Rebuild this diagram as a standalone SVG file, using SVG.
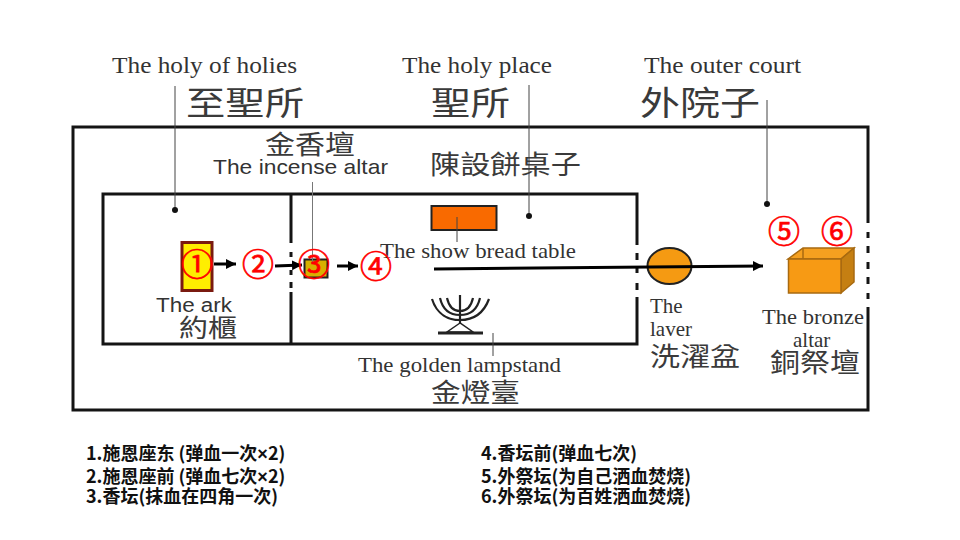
<svg xmlns="http://www.w3.org/2000/svg" width="960" height="540" viewBox="0 0 960 540">
<style>
.w{fill:none;stroke:#141414;stroke-width:3}
.l{fill:none;stroke:#444;stroke-width:1}
.c{stroke:#000;stroke-width:3;fill:none;marker-end:url(#ah)}
.s{font-family:"Liberation Serif",serif;fill:#333}
.a{font-family:"Liberation Sans",sans-serif;fill:#333}
.z{font-family:"Noto Sans CJK TC",sans-serif;font-weight:400;fill:#3a3a3a}
.n{font-family:"Noto Sans CJK SC",sans-serif;font-size:32px;fill:#f00;stroke:#f00;stroke-width:.7;text-anchor:middle}
.b{font-family:"Noto Sans CJK SC",sans-serif;font-size:18px;font-weight:700;fill:#111}
.x{font-family:"Liberation Sans",sans-serif}
.m{fill:none;stroke:#222;stroke-width:2.2}
</style>
<defs>
<marker id="ah" markerUnits="userSpaceOnUse" markerWidth="12" markerHeight="12" refX="10" refY="6" orient="auto"><path d="M0 1L10 6L0 11Z" fill="#000"/></marker>
</defs>
<rect width="960" height="540" fill="#fff"/>
<g id="walls">
<path class="w" d="M868 223V127H73V410H868V307M868 232V238M868 246V253M868 262V269M868 277V284M868 293V299"/>
<path class="w" d="M291 243V194H103V344H637V297M637 245V194H291M291 252V257M291 270V275M291 282V288M291 292V344M637 253V260M637 267V273M637 283V290"/>
</g>
<g id="holy-of-holies">
<text class="s" x="112" y="73" font-size="23.500" textLength="185" lengthAdjust="spacingAndGlyphs">The holy of holies</text>
<text class="z" x="186" y="115" font-size="33" textLength="118" lengthAdjust="spacingAndGlyphs">至聖所</text>
<path class="l" d="M175 86V210"/><circle cx="175" cy="210" r="3" fill="#111"/>
</g>
<g id="holy-place">
<text class="s" x="402" y="73" font-size="23.500" textLength="150" lengthAdjust="spacingAndGlyphs">The holy place</text>
<text class="z" x="431" y="115" font-size="33" textLength="79" lengthAdjust="spacingAndGlyphs">聖所</text>
<path class="l" d="M529 85V216"/><circle cx="529" cy="216" r="3" fill="#111"/>
</g>
<g id="outer-court">
<text class="s" x="644" y="73" font-size="23.500" textLength="157" lengthAdjust="spacingAndGlyphs">The outer court</text>
<text class="z" x="640" y="115" font-size="33" textLength="120" lengthAdjust="spacingAndGlyphs">外院子</text>
<path class="l" d="M767 100V204"/><circle cx="767" cy="204" r="3" fill="#111"/>
</g>
<g id="incense-altar">
<text class="z" x="265" y="154" font-size="26" textLength="90" lengthAdjust="spacingAndGlyphs">金香壇</text>
<text class="a" x="213" y="174" font-size="21" textLength="175" lengthAdjust="spacingAndGlyphs">The incense altar</text>
<rect x="304.500" y="259.500" width="23" height="18" fill="#d8b000" stroke="#222" stroke-width="2"/>
<path d="M312.500 182V262" stroke="#777" stroke-width="1" fill="none"/>
</g>
<g id="ark">
<rect x="182" y="242.500" width="30" height="48" fill="#ffee00" stroke="#7a1a10" stroke-width="3"/>
<text class="a" x="156" y="312" font-size="20" textLength="76" lengthAdjust="spacingAndGlyphs">The ark</text>
<text class="z" x="179" y="337" font-size="25" textLength="58" lengthAdjust="spacingAndGlyphs">約櫃</text>
</g>
<g id="show-bread-table">
<text class="z" x="430" y="174" font-size="26" textLength="151" lengthAdjust="spacingAndGlyphs">陳設餅桌子</text>
<rect x="431.500" y="206" width="65" height="24" fill="#f96a00" stroke="#222" stroke-width="2"/>
<path class="l" d="M457 217V242"/>
<text class="s" x="380" y="258" font-size="21" textLength="196" lengthAdjust="spacingAndGlyphs">The show bread table</text>
</g>
<g id="lampstand">
<path class="m" d="M460 295V323M447 298C449 307 454 311 460 311C466 311 471 307 473 298M440 298C443 311 451 315 460 315C469 315 477 311 480 298M432 299C437 315 449 320 460 320C471 320 483 315 489 299"/>
<path d="M460 323L447 332H473Z" fill="none" stroke="#222" stroke-width="1.500"/>
<path d="M438 333H483" stroke="#222" stroke-width="3"/>
<path class="l" d="M493 333V356"/>
<text class="s" x="358" y="372" font-size="21" textLength="203" lengthAdjust="spacingAndGlyphs">The golden lampstand</text>
<text class="z" x="431" y="402" font-size="26" textLength="89" lengthAdjust="spacingAndGlyphs">金燈臺</text>
</g>
<g id="laver">
<ellipse cx="669.500" cy="266" rx="22" ry="18" fill="#f59a12" stroke="#222" stroke-width="2"/>
<text class="s" x="650" y="313" font-size="21">The</text>
<text class="s" x="650" y="336" font-size="21">laver</text>
<text class="z" x="650" y="366" font-size="26" textLength="90" lengthAdjust="spacingAndGlyphs">洗濯盆</text>
</g>
<g id="bronze-altar">
<path d="M788 259L803 248H854L841 259Z" fill="#f5a020" stroke="#a86a10" stroke-width="1.500"/>
<path d="M841 259L854 248V282L841 293Z" fill="#c57f12" stroke="#a86a10" stroke-width="1.500"/>
<rect x="788.500" y="259" width="52.500" height="34" fill="#f79a14" stroke="#a86a10" stroke-width="1.500"/>
<path d="M803 248V259" stroke="#a86a10" stroke-width="1.500"/>
<text class="s" x="762" y="324" font-size="21" textLength="102" lengthAdjust="spacingAndGlyphs">The bronze</text>
<text class="s" x="793" y="347" font-size="21">altar</text>
<text class="z" x="770" y="372" font-size="26" textLength="90" lengthAdjust="spacingAndGlyphs">銅祭壇</text>
</g>
<g id="connectors">
<path class="c" d="M214 264H236"/>
<path class="c" d="M275 266L302 265"/>
<path class="c" d="M337 266H358"/>
<path class="c" d="M434 269L763 266"/>
</g>
<g id="markers">
<text class="n" x="197" y="276">①</text>
<text class="n" x="258" y="276">②</text>
<text class="n" x="314" y="276">③</text>
<text class="n" x="376" y="278">④</text>
<text class="n" x="784" y="243">⑤</text>
<text class="n" x="837" y="243">⑥</text>
</g>
<g id="legend">
<text class="b" x="86" y="460">1.施恩座东 (弹血一次<tspan class="x">×</tspan>2)</text>
<text class="b" x="86" y="483">2.施恩座前 (弹血七次<tspan class="x">×</tspan>2)</text>
<text class="b" x="86" y="503">3.香坛(抹血在四角一次)</text>
<text class="b" x="481" y="460">4.香坛前(弹血七次)</text>
<text class="b" x="481" y="483">5.外祭坛(为自己洒血焚烧)</text>
<text class="b" x="481" y="503">6.外祭坛(为百姓洒血焚烧)</text>
</g>
</svg>
